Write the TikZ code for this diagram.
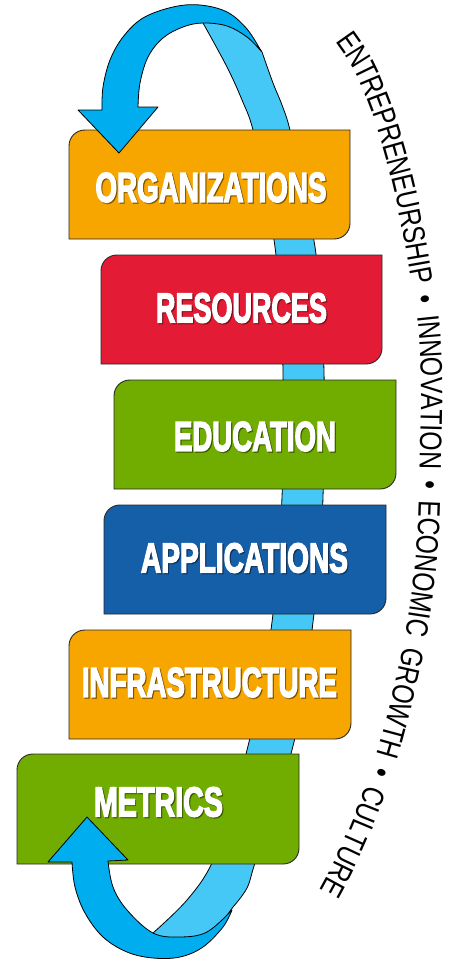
\documentclass[tikz,border=0pt]{standalone}
\usepackage{fontspec}
\usepackage{graphicx}
\usetikzlibrary{decorations.text}
\setmainfont{Liberation Sans}
\newfontfamily\labelfont[BoldFeatures={FakeBold=4}]{Liberation Sans}
\newfontfamily\curvefont[FakeStretch=0.80, WordSpace=2.7]{Liberation Sans}
\newfontfamily\curvefontN[FakeStretch=0.80, WordSpace=1.3]{Liberation Sans}
\newcommand\curvestyle{\curvefont\fontsize{31pt}{32pt}\selectfont}
\newcommand\curvestyleN{\curvefontN\fontsize{31pt}{32pt}\selectfont}
\definecolor{orgc}{RGB}{247,166,0}
\definecolor{resc}{RGB}{227,27,52}
\definecolor{educ}{RGB}{112,173,0}
\definecolor{appc}{RGB}{21,94,168}
\definecolor{darkrib}{RGB}{0,174,239}
\definecolor{lightrib}{RGB}{69,200,245}
\definecolor{boxline}{RGB}{40,40,40}
\tikzset{
  boxstyle/.style={draw=boxline, line width=0.9pt},
  ribstyle/.style={draw=black, line width=0.8pt, line join=round},
  lblstyle/.style={inner sep=0pt, text=white},
  shadowstyle/.style={inner sep=0pt, text=black, opacity=0.35},
}
\newcommand\signbox[5]{%
  \filldraw[boxstyle, fill=#5] (#1+16,#2) -- (#3,#2) -- (#3,#4-16)
    .. controls (#3,#4-7) and (#3-7,#4) .. (#3-16,#4) -- (#1,#4) -- (#1,#2+16)
    .. controls (#1,#2+7) and (#1+7,#2) .. cycle;}
\newcommand\signlabel[5]{%
  \node[shadowstyle] (#1s) at (#2+1.2,#3+1.2) {\resizebox*{#4pt}{29.5pt}{\labelfont\bfseries #5}};
  \node[lblstyle] (#1) at (#2,#3) {\resizebox*{#4pt}{29.5pt}{\labelfont\bfseries #5}};}
\begin{document}
\begin{tikzpicture}[x=1pt, y=-1pt]
\useasboundingbox (0,0) rectangle (458,961);
\fill[white] (0,0) rectangle (458,961);
% light (back) ribbon
\filldraw[ribstyle, fill=lightrib]
  plot[smooth, tension=0.6] coordinates {(203,23) (227,67) (242,100) (253,130) (265,190) (275,247) (281,310) (283,372) (283,435) (282,497) (278,560) (272,622) (262,685) (248,746) (232,805) (212,863) (187,900) (153,933)}
  -- plot[smooth, tension=0.6] coordinates {(153,933) (175,946) (205,940) (233,907)}
  -- plot[smooth, tension=0.6] coordinates {(233,907) (247,888) (255,863) (275,805) (293,746) (305,685) (313,622) (320,560) (323,497) (324,435) (324,372) (321,310) (315,247) (303,190) (290,130) (282,105) (273,83) (262,52)}
  -- plot[smooth, tension=0.6] coordinates {(262,52) (240,25) (220,20) (203,23)} -- cycle;
% boxes
\signbox{69}{130}{350}{239}{orgc}
\signbox{101}{255}{382}{364}{resc}
\signbox{114}{380}{396}{489}{educ}
\signbox{104}{505}{386}{614}{appc}
\signbox{69}{630}{351}{739}{orgc}
\signbox{17}{754}{299}{864}{educ}
% labels
\signlabel{org}{211}{187.5}{231}{ORGANIZATIONS}
\signlabel{res}{241.5}{308}{171}{RESOURCES}
\signlabel{edu}{255}{436.5}{162}{EDUCATION}
\signlabel{app}{244.5}{558}{207}{APPLICATIONS}
\signlabel{inf}{209.5}{682.5}{255}{INFRASTRUCTURE}
\signlabel{met}{158.5}{802}{129}{METRICS}
% top dark ribbon with arrow head
\filldraw[ribstyle, fill=darkrib]
  (119,153) -- (158,107) -- (138,107)
  -- plot[smooth, tension=0.6] coordinates {(138,107) (140,83) (148,57) (163,38) (183,27) (203,23) (227,26) (247,37) (261,51)}
  -- plot[smooth, tension=0.6] coordinates {(261,51) (247,29) (227,12) (200,5) (173,7) (143,18) (123,37) (110,60) (103,87) (102,110)}
  -- (78,110) -- cycle;
% bottom dark ribbon with arrow head
\filldraw[ribstyle, fill=darkrib]
  (87,817) -- (128,860) -- (108,861)
  -- plot[smooth, tension=0.6] coordinates {(108,861) (113,887) (127,910) (153,933) (180,937) (207,932) (232,910)}
  -- plot[smooth, tension=0.6] coordinates {(232,910) (223,927) (203,947) (180,957) (153,958) (127,952) (103,937) (85,913) (75,887) (72,862)}
  -- (48,862) -- cycle;
% curved text
\path[decorate, decoration={text along path, text align=left, raise=-11pt,
  text={|\curvestyle|ENTREPRENEURSHIP • INNOVATION • ECONOMIC|\curvestyleN| |\curvestyle|GROWTH • CULTURE}}]
  plot[smooth, tension=0.6] coordinates {(344,35) (362,62) (377,95) (390,132) (402,175) (412,220) (420,265) (427,305) (431,350) (432,400) (431,450) (430,500) (427,560) (420,615) (411,665) (399,715) (385,765) (368,812) (348,858) (326,900) (300,935)};
\end{tikzpicture}
\end{document}
